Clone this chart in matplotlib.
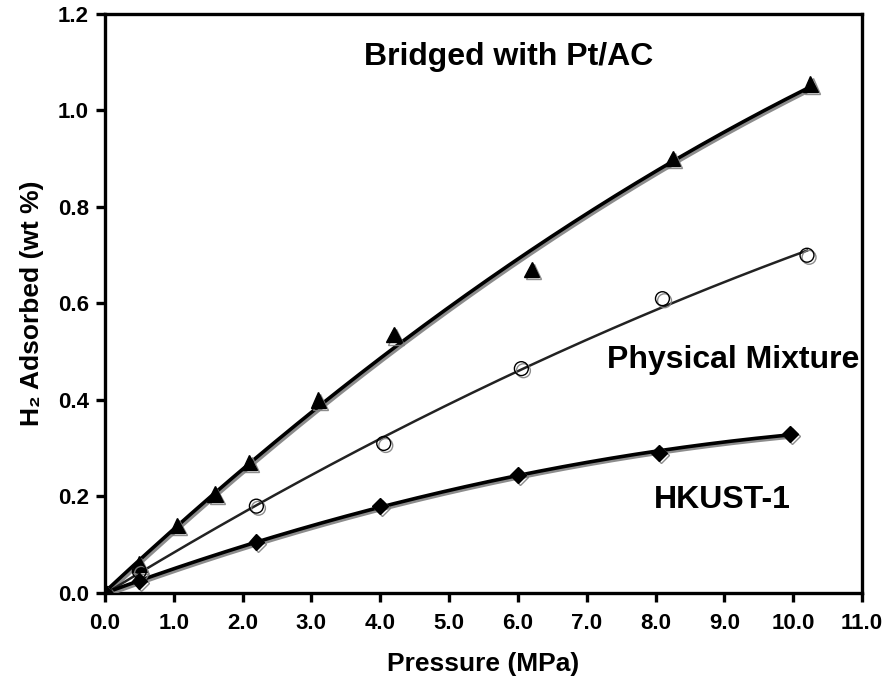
import numpy as np
import matplotlib
matplotlib.use("Agg")
import matplotlib.pyplot as plt
import matplotlib.patheffects as pe

plt.rcParams['font.family'] = ['Liberation Sans', 'DejaVu Sans']
plt.rcParams['font.weight'] = 'bold'

# Bridged with Pt/AC (triangles)
bridgedP = [0.0, 0.5, 1.05, 1.6, 2.1, 3.1, 4.2, 6.2, 8.25, 10.25]
bridgedH2 = [0.0, 0.06, 0.14, 0.205, 0.27, 0.40, 0.535, 0.67, 0.90, 1.055]

# Physical mixture (open circles)
mixP = [0.0, 0.5, 2.2, 4.05, 6.05, 8.1, 10.2]
mixH2 = [0.0, 0.045, 0.18, 0.31, 0.465, 0.61, 0.70]

# HKUST-1 (diamonds)
hkustP = [0.0, 0.5, 2.2, 4.0, 6.0, 8.05, 9.95]
hkustH2 = [0.0, 0.025, 0.105, 0.18, 0.245, 0.29, 0.33]

xTicks = [0, 1, 2, 3, 4, 5, 6, 7, 8, 9, 10, 11]
yTicks = [0.0, 0.2, 0.4, 0.6, 0.8, 1.0, 1.2]


def TrendLine(x, y):
    # second order trendline through the data, as the spreadsheet did
    coef = np.polyfit(x, y, 2)
    xs = np.linspace(0, max(x), 200)
    return xs, np.polyval(coef, xs)


def Shadow():
    return [pe.SimpleLineShadow(offset=(1.5, -1.5), shadow_color='gray', alpha=0.9), pe.Normal()]


def main():
    fig = plt.figure(figsize=(8.91, 6.82), dpi=100)
    ax = fig.add_axes([0.1178, 0.1305, 0.8497, 0.849])

    # trendlines
    xs, ys = TrendLine(bridgedP, bridgedH2)
    ax.plot(xs, ys, color='black', lw=2.6, path_effects=Shadow(), zorder=3)
    xs, ys = TrendLine(mixP, mixH2)
    ax.plot(xs, ys, color='#222222', lw=1.8, zorder=3)
    xs, ys = TrendLine(hkustP, hkustH2)
    ax.plot(xs, ys, color='black', lw=2.6, path_effects=Shadow(), zorder=3)

    # data points
    ax.plot(bridgedP, bridgedH2, ls='none', marker='^', ms=11, color='black',
            path_effects=Shadow(), zorder=4)
    ax.plot(mixP, mixH2, ls='none', marker='o', ms=10, mfc='none', mec='black', mew=1.0,
            path_effects=Shadow(), zorder=4)
    ax.plot(hkustP, hkustH2, ls='none', marker='D', ms=8, color='black',
            path_effects=Shadow(), zorder=4)

    # labels on the curves
    ax.text(5.87, 1.11, 'Bridged with Pt/AC', fontsize=23, fontweight='bold', ha='center', va='center')
    ax.text(9.13, 0.483, 'Physical Mixture', fontsize=23, fontweight='bold', ha='center', va='center')
    ax.text(8.97, 0.193, 'HKUST-1', fontsize=23, fontweight='bold', ha='center', va='center')

    ax.set_xlim(0, 11)
    ax.set_ylim(0, 1.2)
    ax.set_xticks(xTicks)
    ax.set_xticklabels(['%.1f' % t for t in xTicks])
    ax.set_yticks(yTicks)
    ax.set_yticklabels(['%.1f' % t for t in yTicks])
    ax.tick_params(direction='out', length=6.5, width=2.4, labelsize=16)
    ax.tick_params(axis='x', pad=8)
    ax.tick_params(axis='y', pad=5)
    for lab in ax.get_xticklabels() + ax.get_yticklabels():
        lab.set_fontweight('bold')
    for sp in ax.spines.values():
        sp.set_linewidth(2.4)

    ax.set_xlabel('Pressure (MPa)', fontsize=19, fontweight='bold', labelpad=13)
    ax.set_ylabel('H\u2082 Adsorbed (wt %)', fontsize=19, fontweight='bold', labelpad=10)

    fig.savefig('out.png', dpi=100)


if __name__ == "__main__":
    main()
